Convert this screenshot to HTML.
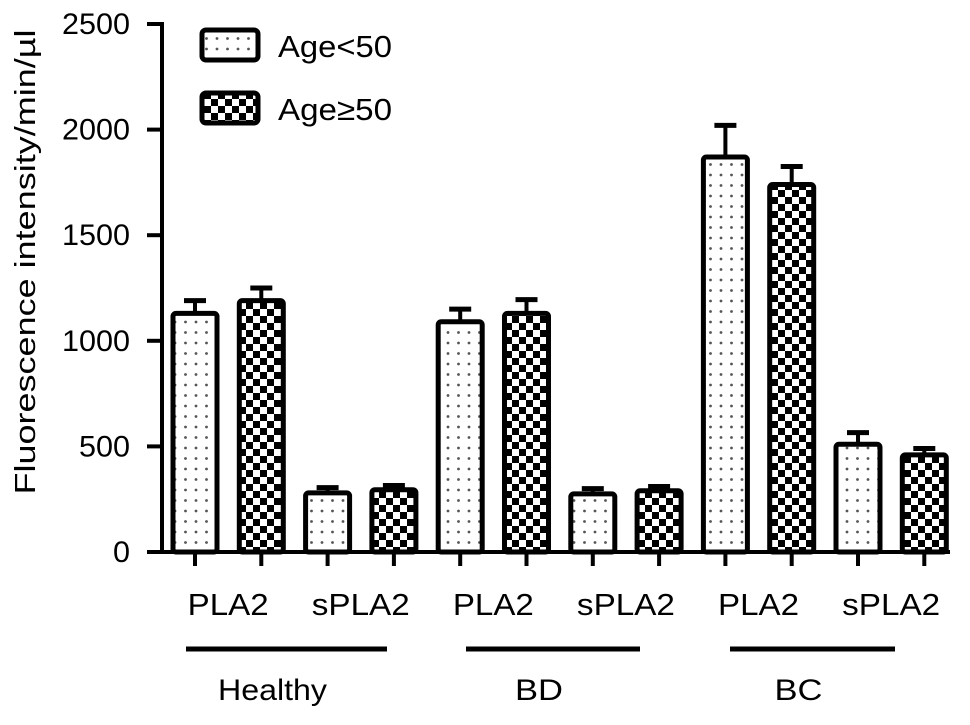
<!DOCTYPE html>
<html><head><meta charset="utf-8"><style>
body{margin:0;background:#fff}
svg text{font-family:"Liberation Sans",Arial,sans-serif;fill:#000}
</style></head><body>
<svg id="chart" width="970" height="720" viewBox="0 0 970 720">
<defs>
<pattern id="dots" width="10.5" height="10.5" patternUnits="userSpaceOnUse" x="2" y="2">
<rect width="10.5" height="10.5" fill="#fff"/><circle cx="5" cy="5" r="1.4" fill="#555"/>
</pattern>
<pattern id="check" width="14" height="14" patternUnits="userSpaceOnUse" x="1" y="1">
<rect width="14" height="14" fill="#fff"/><rect width="7" height="7" fill="#000"/><rect x="7" y="7" width="7" height="7" fill="#000"/>
</pattern>
</defs>
<g id="axes"></g>
<g id="bars"></g>
<g id="legend">
<rect x="202" y="30" width="56" height="30" rx="4" fill="url(#dots)" stroke="#000" stroke-width="5"/>
<text x="278" y="57" font-size="31" textLength="114" lengthAdjust="spacingAndGlyphs">Age&lt;50</text>
<rect x="202" y="93" width="56" height="30" rx="4" fill="url(#check)" stroke="#000" stroke-width="5"/>
<text x="278" y="120" font-size="31" textLength="114" lengthAdjust="spacingAndGlyphs">Age≥50</text>
</g>
<text transform="translate(35,262) rotate(-90)" text-anchor="middle" font-size="29" textLength="465" lengthAdjust="spacingAndGlyphs">Fluorescence intensity/min/µl</text>
</svg>
<script>
const groups = ["Healthy","BD","BC"];
const subcats = ["PLA2","sPLA2"];
const youngVals = [1130,280,1090,275,1870,510];
const youngErr = [60,25,60,25,150,55];
const oldVals = [1190,295,1130,290,1740,460];
const oldErr = [60,20,65,20,85,30];
const yTicks = [0,500,1000,1500,2000,2500];

const NS="http://www.w3.org/2000/svg";
const y0=552, yTop=24, yMax=2500, axisX=162;
const y=v=>y0-(v/yMax)*(y0-yTop);
const xc=i=>195+66.3*i;
function mk(tag,attrs,parent){const e=document.createElementNS(NS,tag);for(const k in attrs)e.setAttribute(k,attrs[k]);parent.appendChild(e);return e;}
const axes=document.getElementById('axes'), bars=document.getElementById('bars');
const subW={"PLA2":81,"sPLA2":98};
const grpW={"Healthy":109,"BD":48,"BC":48};

let e=mk('line',{x1:axisX,y1:yTop-2,x2:axisX,y2:y0+2,stroke:'#000','stroke-width':4},axes);


e=mk('line',{x1:axisX-2,y1:y0,x2:950,y2:y0,stroke:'#000','stroke-width':4},axes);


yTicks.forEach(t=>{
  let l=mk('line',{x1:axisX-15,y1:y(t),x2:axisX,y2:y(t),stroke:'#000','stroke-width':4},axes);
  
  
  const s=String(t);
  let tx=mk('text',{x:130,y:y(t)+10,'text-anchor':'end','font-size':30,textLength:17*s.length,lengthAdjust:'spacingAndGlyphs'},axes);
  tx.textContent=s;
  
  
});

for(let k=0;k<youngVals.length;k++){
  [[youngVals[k],youngErr[k],'url(#dots)',2*k,'young'],[oldVals[k],oldErr[k],'url(#check)',2*k+1,'old']].forEach(([v,er,fill,i,nm])=>{
    const cx=xc(i);
    let eb=mk('line',{x1:cx,y1:y(v),x2:cx,y2:y(v+er),stroke:'#000','stroke-width':4},bars);
    
    
    let cap=mk('line',{x1:cx-11,y1:y(v+er),x2:cx+11,y2:y(v+er),stroke:'#000','stroke-width':5},bars);
    
    
    let r=mk('rect',{x:cx-22,y:y(v),width:44,height:y0-y(v),rx:3,fill:fill,stroke:'#000','stroke-width':5},bars);
    
    
    let tk=mk('line',{x1:cx,y1:y0,x2:cx,y2:y0+14,stroke:'#000','stroke-width':4},axes);
    
    
  });
  const lx=(xc(2*k)+xc(2*k+1))/2;
  const lab=subcats[k%2];
  let t=mk('text',{x:lx,y:615,'text-anchor':'middle','font-size':31,textLength:subW[lab],lengthAdjust:'spacingAndGlyphs'},axes);
  t.textContent=lab;
  
  
}
const spans=[[186,387],[466,640],[730,895]];
groups.forEach((g,j)=>{
  let l=mk('line',{x1:spans[j][0],y1:649,x2:spans[j][1],y2:649,stroke:'#000','stroke-width':5},axes);
  
  
  let t=mk('text',{x:(spans[j][0]+spans[j][1])/2-14,y:700,'text-anchor':'middle','font-size':30,textLength:grpW[g],lengthAdjust:'spacingAndGlyphs'},axes);
  t.textContent=g;
  
  
});
</script>
</body></html>
